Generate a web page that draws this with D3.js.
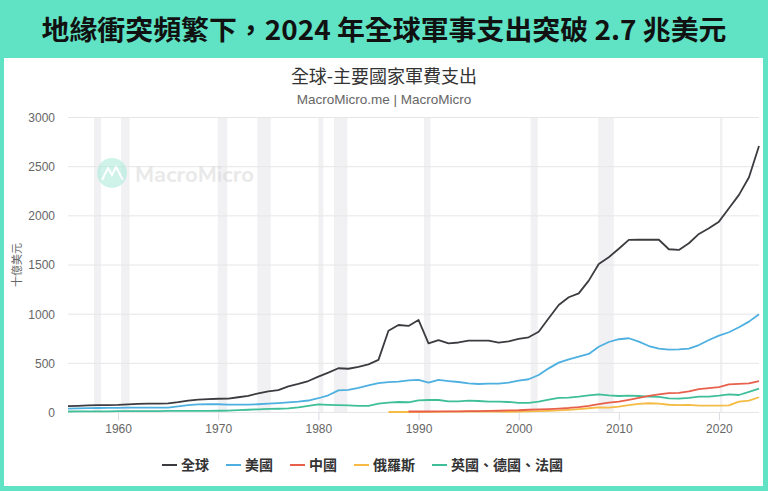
<!DOCTYPE html>
<html><head><meta charset="utf-8">
<script src="https://cdn.jsdelivr.net/npm/d3@7"></script>
<style>
html,body{margin:0;padding:0;background:#5fe3c4;}
svg{display:block;}
</style></head>
<body>
<svg id="chart" width="768" height="491"></svg>
<script>
const years = d3.range(1955, 2025);
const globalVals = [65,68,72,74,76,78,83,88,90,91,93,105,120,130,136,140,142,155,170,195,215,228,265,290,320,365,405,450,445,465,490,535,832,890,880,941,704,737,704,712,730,730,730,710,724,748,765,822,958,1093,1172,1212,1341,1511,1579,1665,1755,1757,1757,1757,1660,1653,1721,1816,1873,1941,2077,2213,2393,2711];
const usVals = [40,42,44,46,47,48,49,50,50,50,50,63,76,82,84,84,80,80,80,84,90,95,102,110,122,145,175,225,230,250,275,298,308,313,327,331,303,331,320,310,297,290,293,293,303,324,338,381,449,507,541,568,595,669,717,745,755,720,676,649,639,642,649,686,737,782,816,867,924,999];
const ukdefrVals = [10,11,11,12,12,13,13,14,15,15,16,17,17,17,17,18,20,24,28,32,36,38,42,52,68,82,78,74,72,68,68,90,100,107,104,124,127,127,114,114,120,117,110,110,107,97,97,110,131,148,151,161,175,185,175,168,171,168,161,158,144,141,148,161,161,171,185,178,209,242];
const chinaYears = d3.range(1989, 2025);
const chinaVals = [10,10,10,11,11,12,13,14,16,18,21,23,28,32,35,40,46,55,68,86,100,110,128,148,168,185,198,200,215,238,248,258,285,292,296,318];
const russiaYears = d3.range(1987, 2025);
const russiaVals = [5,5,5,5,6,7,8,9,10,10,11,8,7,9,12,14,17,21,27,35,43,53,50,60,75,88,94,90,79,76,77,70,70,70,73,110,120,155];
const recessions = [[1957.6,1958.3],[1960.3,1961.15],[1969.95,1970.9],[1973.9,1975.25],[1980.0,1980.5],[1981.55,1982.9],[1990.55,1991.2],[2001.2,2001.9],[2007.95,2009.5],[2020.1,2020.35]];
const yTicks = [0,500,1000,1500,2000,2500,3000];
const xTicks = [1960,1970,1980,1990,2000,2010,2020];
const seriesNames = ["全球","美國","中國","俄羅斯","英國、德國、法國"];
const seriesColors = ["#3c3c40","#4eb0e0","#e8604c","#f5bb45","#3fbf98"];

const title = "地緣衝突頻繁下，2024 年全球軍事支出突破 2.7 兆美元";
const chartTitle = "全球-主要國家軍費支出";
const subTitle = "MacroMicro.me | MacroMicro";
const yTitle = "十億美元";

const svg = d3.select("#chart");
const CJK = "'Noto Sans CJK TC','Noto Sans CJK SC',sans-serif";
const LAT = "'Liberation Sans','Noto Sans CJK TC',sans-serif";

// frame
svg.append("rect").attr("x",0).attr("y",0).attr("width",768).attr("height",491).attr("fill","#5fe3c4");
svg.append("rect").attr("x",4).attr("y",58).attr("width",759).attr("height",428).attr("fill","#ffffff");

// main title
const tt = svg.append("text").attr("x",384).attr("y",40).attr("text-anchor","middle")
  .attr("font-family",CJK).attr("font-weight",700).attr("font-size",27).attr("fill","#111").text(title);
const tl = tt.node().getComputedTextLength();
if (Math.abs(tl-685) > 4) tt.attr("textLength",685).attr("lengthAdjust","spacingAndGlyphs");

const x = d3.scaleLinear().domain([1955,2024]).range([68,759]);
const y = d3.scaleLinear().domain([0,3000]).range([412.5,117.5]);

// recession bands
svg.append("g").selectAll("rect").data(recessions).join("rect")
  .attr("x",d=>x(d[0])).attr("width",d=>x(d[1])-x(d[0]))
  .attr("y",y(3000)).attr("height",y(0)-y(3000)).attr("fill","#f1f1f3");

// grid
svg.append("g").selectAll("line").data(yTicks).join("line")
  .attr("x1",68).attr("x2",759).attr("y1",d=>y(d)).attr("y2",d=>y(d))
  .attr("stroke","#e6e6e6").attr("stroke-width",1);

// watermark
const wm = svg.append("g").attr("opacity",0.55);
wm.append("circle").attr("cx",112).attr("cy",173).attr("r",15).attr("fill","#a8ebd8");
wm.append("path").attr("d","M102,180 L108,168 L112,175 L116,167 L123,180").attr("fill","none").attr("stroke","#fff").attr("stroke-width",2);
wm.append("text").attr("x",135).attr("y",182).attr("font-family","'Nunito','Lato',sans-serif").attr("font-weight",700)
  .attr("font-size",22).attr("fill","#d8d8d8").text("MacroMicro");

// chart titles
svg.append("text").attr("x",384).attr("y",83).attr("text-anchor","middle").attr("font-family",CJK)
  .attr("font-size",18).attr("fill","#333").text(chartTitle);
svg.append("text").attr("x",384).attr("y",104).attr("text-anchor","middle").attr("font-family",LAT)
  .attr("font-size",13.5).attr("fill","#666").text(subTitle);

// y axis labels
const yAxis = d3.axisLeft(y).tickValues(yTicks).tickSize(0).tickPadding(0).tickFormat(d3.format("d"));
const ya = svg.append("g").attr("transform","translate(55,0)").call(yAxis);
ya.select(".domain").remove();
ya.selectAll("text").attr("font-family",LAT).attr("font-size",12).attr("fill","#666");

svg.append("text").attr("transform","translate(21,265) rotate(-90)").attr("text-anchor","middle")
  .attr("font-family",CJK).attr("font-size",11).attr("fill","#666").text(yTitle);

// x axis
const xAxis = d3.axisBottom(x).tickValues(xTicks).tickSize(8).tickPadding(4).tickFormat(d3.format("d"));
const xa = svg.append("g").attr("transform",`translate(0,${y(0)})`).call(xAxis);
xa.select(".domain").remove();
xa.selectAll("line").attr("stroke","#d8dce6");
xa.selectAll("text").attr("font-family",LAT).attr("font-size",12).attr("fill","#666");

// lines
const line = d3.line().x(d=>x(d[0])).y(d=>y(d[1]));
const series = [
  d3.zip(years, globalVals),
  d3.zip(years, usVals),
  d3.zip(chinaYears, chinaVals),
  d3.zip(russiaYears, russiaVals),
  d3.zip(years, ukdefrVals)
];
const drawOrder = [4,3,2,1,0];
svg.append("g").selectAll("path").data(drawOrder).join("path")
  .attr("d",i=>line(series[i])).attr("fill","none").attr("stroke",i=>seriesColors[i])
  .attr("stroke-width",1.8).attr("stroke-linejoin","round");

// legend
const lg = svg.append("g").attr("transform","translate(162,465)");
let cx = 0;
seriesNames.forEach((n,i)=>{
  const g = lg.append("g").attr("transform",`translate(${cx},0)`);
  g.append("line").attr("x1",0).attr("x2",15).attr("y1",0).attr("y2",0).attr("stroke",seriesColors[i]).attr("stroke-width",2);
  const t = g.append("text").attr("x",19).attr("y",5).attr("font-family",CJK).attr("font-weight",700)
    .attr("font-size",14).attr("fill","#333").text(n);
  cx += 19 + t.node().getComputedTextLength() + 17;
});
</script>
</body></html>
